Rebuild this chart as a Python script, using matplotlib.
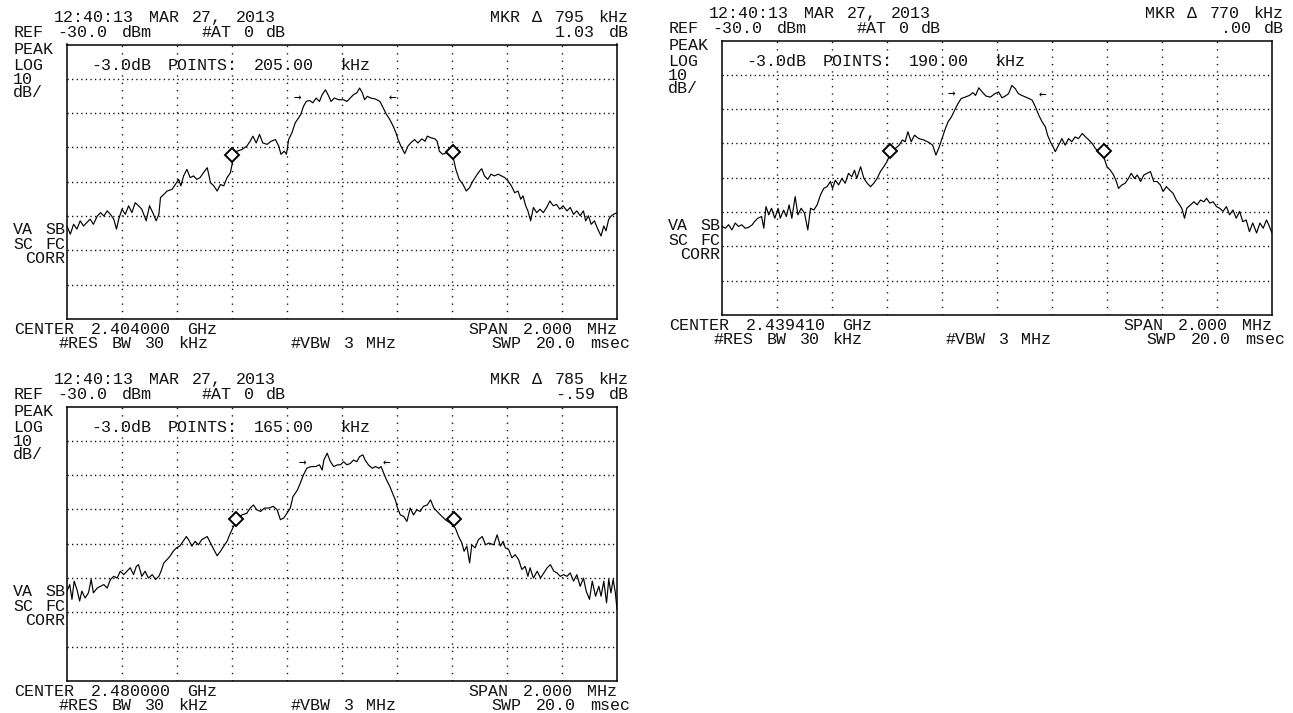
import matplotlib
matplotlib.use('Agg')
import matplotlib.pyplot as plt

W, H = 1293, 713
MONO = 'Liberation Mono'
ADV = 10.85  # character pitch of the analyser's screen font, px

# instrument read-outs per panel
centers_ghz = ['2.404000', '2.439410', '2.480000']
mkr_delta_khz = ['795', '770', '785']
mkr_delta_db = ['1.03', '.00', '-.59']
points_khz = ['205.00', '190.00', '165.00']
stamp = '12:40:13 MAR 27, 2013'

# traces: (offset from center in kHz, level in dBm)
trace1 = [
    (-1000, -82.9), (-988, -85.3), (-976, -82.4), (-964, -83.8), (-952, -81.4), (-940, -82.9),
    (-928, -81.9), (-916, -80.9), (-904, -82.4), (-890, -80.0), (-878, -79.0), (-866, -80.0),
    (-854, -78.5), (-842, -79.5), (-830, -80.9), (-820, -83.8), (-812, -80.9), (-800, -78.0),
    (-788, -79.5), (-776, -77.0), (-764, -79.0), (-752, -76.1), (-740, -77.0), (-728, -78.0),
    (-712, -81.4), (-700, -77.0), (-688, -79.0), (-676, -81.4), (-666, -79.5), (-660, -74.6),
    (-648, -73.7), (-636, -72.7), (-618, -72.2), (-606, -70.8), (-594, -69.3), (-586, -71.2),
    (-576, -68.3), (-564, -66.4), (-552, -68.8), (-540, -68.3), (-528, -69.3), (-516, -68.8),
    (-504, -67.4), (-490, -65.9), (-478, -70.3), (-466, -71.2), (-454, -72.7), (-442, -70.8),
    (-430, -71.2), (-418, -68.8), (-406, -67.4), (-396, -63.5), (-382, -61.1), (-364, -60.6),
    (-346, -59.6), (-334, -58.2), (-324, -56.7), (-312, -58.7), (-300, -56.2), (-288, -58.7),
    (-272, -59.1), (-258, -58.2), (-242, -57.7), (-230, -59.6), (-222, -62.0), (-210, -61.1),
    (-202, -62.0), (-194, -57.7), (-182, -55.7), (-170, -52.8), (-158, -51.4), (-150, -50.4),
    (-140, -48.0), (-130, -46.6), (-118, -46.3), (-106, -47.0), (-94, -45.6), (-82, -46.6),
    (-72, -44.6), (-60, -43.2), (-48, -45.1), (-40, -46.6), (-28, -45.6), (-12, -46.1),
    (6, -46.1), (18, -46.6), (30, -45.6), (42, -44.6), (54, -44.1), (64, -42.7),
    (74, -44.1), (82, -46.1), (92, -45.1), (104, -45.6), (122, -45.9), (138, -46.6),
    (150, -48.5), (162, -50.4), (174, -51.9), (186, -53.8), (196, -55.7), (204, -57.7),
    (214, -59.6), (228, -61.8), (240, -59.6), (252, -58.5), (264, -57.7), (276, -58.7),
    (290, -57.5), (302, -58.2), (310, -56.7), (324, -57.2), (338, -57.5), (346, -58.2),
    (354, -61.1), (366, -62.0), (378, -61.6), (390, -62.0), (406, -63.5), (414, -66.4),
    (426, -69.3), (440, -70.8), (452, -72.7), (464, -71.7), (476, -69.8), (488, -68.3),
    (500, -66.9), (508, -66.2), (518, -68.3), (530, -69.3), (542, -67.8), (554, -68.3),
    (568, -67.8), (580, -68.3), (592, -68.8), (604, -69.8), (616, -71.2), (628, -73.2),
    (640, -72.7), (650, -75.1), (658, -74.1), (668, -77.0), (676, -78.5), (686, -81.4),
    (696, -77.5), (708, -79.0), (720, -78.0), (732, -79.0), (744, -77.5), (756, -75.6),
    (768, -77.0), (780, -76.6), (792, -78.0), (804, -77.0), (818, -78.5), (830, -77.5),
    (842, -79.5), (854, -78.5), (866, -79.9), (878, -78.5), (886, -81.4), (896, -79.9),
    (906, -82.4), (918, -81.4), (930, -83.8), (942, -85.8), (952, -82.9), (960, -84.3),
    (970, -80.9), (980, -79.9), (988, -79.5), (1000, -79.0),
]

trace2 = [
    (-1000, -84.2), (-988, -84.7), (-976, -83.7), (-964, -85.2), (-952, -83.2), (-940, -84.2),
    (-928, -83.7), (-916, -84.7), (-904, -84.5), (-890, -83.7), (-882, -82.8), (-870, -81.8),
    (-856, -81.3), (-848, -84.7), (-840, -78.4), (-830, -80.8), (-820, -78.9), (-808, -81.8),
    (-796, -78.9), (-788, -81.8), (-776, -79.4), (-766, -81.3), (-756, -77.9), (-746, -81.8),
    (-734, -75.5), (-724, -80.8), (-712, -78.9), (-700, -80.3), (-688, -85.2), (-678, -78.9),
    (-666, -79.4), (-654, -77.9), (-642, -75.0), (-630, -73.1), (-618, -72.6), (-606, -71.1),
    (-598, -73.1), (-588, -70.7), (-576, -72.1), (-564, -70.2), (-552, -71.6), (-540, -68.7),
    (-528, -69.7), (-518, -67.8), (-510, -70.2), (-496, -66.8), (-484, -70.2), (-472, -71.6),
    (-460, -72.6), (-448, -71.6), (-436, -70.2), (-424, -68.2), (-412, -66.8), (-400, -65.3),
    (-388, -62.9), (-370, -61.5), (-356, -60.5), (-344, -59.0), (-334, -59.5), (-324, -56.6),
    (-312, -59.5), (-300, -57.6), (-284, -58.6), (-266, -59.0), (-248, -59.7), (-234, -60.5),
    (-222, -63.4), (-210, -61.0), (-200, -58.6), (-188, -55.7), (-178, -53.7), (-166, -52.3),
    (-154, -50.3), (-142, -48.4), (-130, -46.9), (-116, -46.5), (-100, -46.0), (-88, -45.2),
    (-78, -46.0), (-66, -43.8), (-54, -45.0), (-40, -46.2), (-24, -46.5), (-8, -45.5),
    (6, -45.0), (18, -46.7), (30, -46.2), (42, -45.5), (54, -43.1), (66, -44.0),
    (78, -45.5), (90, -46.0), (104, -46.5), (116, -46.9), (128, -47.4), (140, -49.4),
    (152, -51.8), (164, -53.7), (176, -55.2), (184, -57.6), (194, -59.5), (204, -61.0),
    (212, -62.4), (224, -60.5), (236, -58.6), (248, -60.5), (260, -58.6), (272, -59.5),
    (284, -58.1), (296, -58.6), (310, -57.1), (322, -58.1), (334, -59.0), (346, -60.0),
    (358, -61.5), (370, -62.4), (388, -63.9), (400, -66.8), (412, -67.8), (424, -69.2),
    (434, -71.1), (442, -73.1), (454, -72.1), (466, -71.6), (478, -70.2), (488, -68.7),
    (500, -70.2), (510, -69.2), (522, -71.1), (534, -69.2), (546, -68.7), (558, -68.2),
    (570, -71.1), (582, -71.1), (594, -72.1), (604, -74.0), (616, -72.6), (628, -73.6),
    (640, -74.5), (652, -76.5), (664, -77.9), (672, -78.9), (682, -81.8), (690, -78.9),
    (704, -77.9), (716, -77.0), (728, -77.9), (740, -76.5), (752, -77.0), (762, -76.0),
    (774, -77.4), (786, -77.0), (798, -78.4), (810, -78.9), (822, -79.8), (834, -78.4),
    (846, -80.8), (858, -79.4), (870, -81.8), (882, -79.8), (894, -82.8), (906, -82.3),
    (918, -85.7), (930, -83.2), (944, -86.1), (956, -83.2), (968, -84.7), (980, -82.3),
    (988, -83.7), (1000, -86.1),
]

trace3 = [
    (-1000, -83.8), (-990, -81.9), (-982, -86.2), (-974, -80.9), (-964, -83.3), (-954, -86.7),
    (-946, -83.8), (-934, -85.8), (-922, -84.3), (-912, -80.4), (-904, -84.3), (-890, -82.9),
    (-878, -82.4), (-866, -81.9), (-854, -82.9), (-842, -80.4), (-830, -79.5), (-818, -80.0),
    (-806, -78.0), (-794, -79.0), (-782, -78.0), (-770, -77.0), (-758, -79.0), (-748, -76.6),
    (-740, -76.1), (-728, -79.5), (-716, -78.0), (-704, -80.0), (-690, -79.0), (-678, -80.4),
    (-666, -79.5), (-658, -78.0), (-648, -75.6), (-636, -74.6), (-626, -73.7), (-614, -72.2),
    (-602, -71.2), (-590, -70.7), (-578, -69.3), (-566, -67.9), (-558, -68.8), (-546, -70.7),
    (-534, -69.3), (-522, -70.3), (-510, -68.8), (-490, -67.9), (-478, -69.8), (-466, -71.7),
    (-454, -73.5), (-442, -72.2), (-430, -70.7), (-418, -69.3), (-406, -66.9), (-394, -64.9),
    (-376, -62.5), (-364, -61.6), (-346, -61.1), (-334, -59.6), (-322, -58.7), (-310, -60.1),
    (-296, -60.6), (-282, -59.6), (-266, -59.6), (-250, -59.1), (-236, -60.1), (-224, -63.0),
    (-212, -62.5), (-200, -61.1), (-188, -59.6), (-178, -56.2), (-170, -55.3), (-162, -54.3),
    (-152, -52.4), (-140, -49.9), (-128, -48.0), (-112, -47.5), (-96, -47.5), (-82, -47.0),
    (-72, -48.5), (-66, -45.6), (-54, -43.6), (-42, -46.1), (-30, -47.5), (-16, -47.0),
    (-6, -47.0), (6, -46.1), (18, -47.0), (30, -46.6), (42, -45.6), (54, -46.1),
    (64, -44.6), (76, -44.1), (84, -45.6), (96, -47.0), (110, -48.0), (122, -47.5),
    (134, -48.0), (142, -47.5), (152, -49.5), (162, -51.4), (174, -53.3), (186, -55.7),
    (194, -57.2), (202, -59.6), (212, -61.6), (224, -62.0), (236, -63.5), (248, -59.6),
    (260, -61.6), (272, -60.1), (284, -60.6), (296, -59.1), (310, -58.7), (322, -57.2),
    (334, -59.6), (346, -60.6), (358, -61.6), (376, -63.0), (394, -64.0), (412, -65.4),
    (424, -67.9), (436, -69.8), (444, -72.2), (454, -70.7), (464, -75.6), (472, -70.3),
    (484, -71.2), (496, -68.8), (510, -67.9), (522, -70.3), (534, -69.8), (552, -70.3),
    (564, -67.4), (576, -70.7), (586, -69.3), (594, -71.2), (606, -71.7), (618, -74.1),
    (630, -73.2), (642, -74.6), (654, -77.5), (666, -76.6), (676, -79.5), (684, -77.0),
    (696, -80.0), (710, -78.0), (722, -80.0), (734, -78.5), (746, -77.0), (758, -76.1),
    (770, -78.0), (782, -78.5), (794, -79.5), (806, -79.0), (818, -79.5), (830, -78.5),
    (842, -80.9), (854, -79.0), (866, -82.4), (878, -80.0), (888, -83.8), (900, -86.2),
    (910, -80.9), (922, -85.3), (934, -82.4), (942, -85.3), (952, -80.9), (962, -87.2),
    (970, -80.4), (978, -84.3), (986, -80.4), (994, -84.3), (1000, -89.1),
]

# diamond markers and the -3 dB arrows
markers = [[(-400, -62.3), (402, -61.3)],
           [(-388, -62.1), (388, -62.2)],
           [(-386, -62.7), (406, -62.8)]]
arrows = [[(-162, -45.6), (182, -45.6)],
          [(-166, -45.5), (164, -45.8)],
          [(-144, -46.3), (162, -46.3)]]

# where each panel sits, in pixels (top left of the layout block)
origins = [(0, 0), (655, -4), (0, 362)]


def spaced(fig, x, y, s, ha='left'):
    # words go where the analyser's wide-pitch font puts them
    if ha == 'right':
        x = x + 1.5 - len(s) * ADV
    base = 1 - (y + 4.7) / H
    i = 0
    for word in s.split(' '):
        if word:
            cx = x + (i + len(word) / 2) * ADV
            fig.text(cx / W, base, word, ha='center', va='baseline',
                     family=MONO, fontsize=12, color='#111')
        i += len(word) + 1


def draw_panel(fig, k):
    ox, oy = origins[k]
    left, top, bw, bh = 67 + ox, 44.5 + oy, 550, 274.5
    ax = fig.add_axes([left / W, 1 - (top + bh) / H, bw / W, bh / H])

    tr = [trace1, trace2, trace3][k]
    xs = [p[0] for p in tr]
    ys = [p[1] for p in tr]
    ax.plot(xs, ys, color='black', lw=0.85, zorder=3)

    mx = [p[0] for p in markers[k]]
    my = [p[1] for p in markers[k]]
    ax.plot(mx, my, 'D', ms=7.5, mfc='white', mec='black', mew=1.4, zorder=4)
    for (px, py), s in zip(arrows[k], ['→', '←']):
        ax.text(px, py, s, ha='center', va='center', fontsize=9, family='DejaVu Sans Mono')

    ax.set_xlim(-1000, 1000)
    ax.set_ylim(-110, -30)
    ax.set_xticks(range(-800, 801, 200))
    ax.set_yticks(range(-100, -39, 10))
    ax.tick_params(length=0, labelbottom=False, labelleft=False)
    ax.xaxis.grid(True, color='black', lw=1.0, linestyle=(0, (0.9, 4.4)))
    ax.yaxis.grid(True, color='black', lw=1.0, linestyle=(0, (0.9, 2.4)))
    for sp in ax.spines.values():
        sp.set_linewidth(1.1)

    def t(x, y, s, ha='left'):
        spaced(fig, x + ox, y + oy, s, ha)

    t(50, 17, stamp)
    t(12, 32, 'REF -30.0 dBm')
    t(200, 32, '#AT 0 dB')
    t(628, 17, f'MKR Δ {mkr_delta_khz[k]} kHz', 'right')
    t(628, 32, f'{mkr_delta_db[k]} dB', 'right')
    t(12, 49, 'PEAK')
    t(12, 65, 'LOG')
    t(12, 79, '10')
    t(12, 92, 'dB/')
    t(65, 229, 'VA SB', 'right')
    t(65, 244, 'SC FC', 'right')
    t(65, 258, 'CORR', 'right')
    t(89, 65, f'-3.0dB POINTS: {points_khz[k]}  kHz')
    t(12, 329, f'CENTER {centers_ghz[k]} GHz')
    t(57, 343, '#RES BW 30 kHz')
    t(289, 343, '#VBW 3 MHz')
    t(617, 329, 'SPAN 2.000 MHz', 'right')
    t(630, 343, 'SWP 20.0 msec', 'right')


fig = plt.figure(figsize=(W / 100, H / 100), dpi=100)
for k in range(3):
    draw_panel(fig, k)

fig.savefig('out.png', dpi=100, facecolor='white')
